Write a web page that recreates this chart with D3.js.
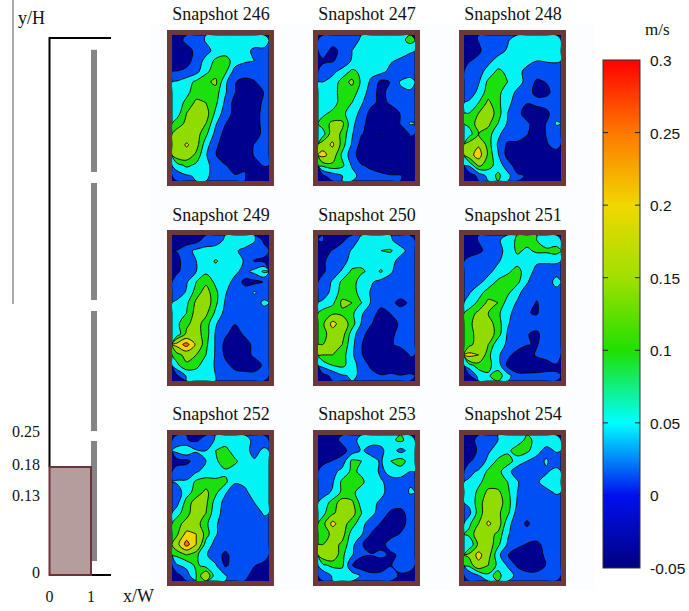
<!DOCTYPE html>
<html><head><meta charset="utf-8">
<script src="https://cdnjs.cloudflare.com/ajax/libs/d3/7.8.5/d3.min.js"></script>
<style>html,body{margin:0;padding:0;background:#fff}svg{display:block}text{font-family:"Liberation Serif",serif;fill:#111}</style>
</head><body><svg id="c" width="689" height="611"></svg>
<script>
// Velocity grids in cm/s, 10 columns x 14 rows
const snapshot246=[-1,2,3,6,8,8,9,8,8,8, -3,-1,2,4,7,8,8,7,4.5,4.5, -3,-1,3,7,11,12,8,6,5.5,5, 1,2,4,9,12,11,3.5,3,3,5.5, 6,8,11,13,15,6.5,1,-0.5,0.5,3, 7,9,12,13,12,6,1,-2,-2,1, 8,11,15,14,11,4.5,-1,-3,-2,2, 8,14,18,16,9,3,-0.5,-3,-2,3, 12,15,17,14,6,1,-2,-3,-2,3, 16,14,16,11,4,-1,-3,-3,-1,2, 15,21,16,7.5,2,-2,-3,-1,1,2, 17,17,13,6,1,-2,-2,-0.5,1,2, 8,11,9,7,3,1,-0.5,0.5,0,1, 3,5,6,6,4.5,2,1,1,-1,-1];
const snapshot247=[2,3,3,3,6.5,9.5,8,7,8,12, 3,-0.5,2,5.5,8,10,7,8,8,6, 0,0.5,2.5,6,8,9,7,6,4.5,4, 3,4.5,7,11,9,7,7,4,2,3.5, 5.5,7,12,15,9,4.5,-0.5,1,6,7, 6.5,8,12,12,8,3,-1,3,4.5,5, 7,8,12,10,6,2,-0.5,1.5,3,3.5, 9,11,11,8,4,-1,-2,-1.5,1,3, 12,15,15,7,2,-1,-2,-2,1,6, 8,17,13,6,1,-0.5,1,-1,-1,1, 17,21,12,5,-1,-3,-3,-3,-2,0, 22,17,9,3,-2,-3,-3,-3,-2,-0.5, 11,13,11,5,1,0,-2,-1,-1.5,-1, 0,3,5.5,7,4,2,2,1,1,-0.5];
const snapshot248=[-1,1,3,3,5,8,6,9,9,9, -1,0,3,4,6,9,9,8,8,8, 0.5,2,4.5,7,8,8,7,5.5,6,6, 3,4,7,11,9,7,4,3,1,3, 4,5,11,12,10,7.5,4,0,1,4, 2,7,12,11,8,4.5,2.5,-0.5,-0.5,3, 6.5,10,15,11,7,3,1,2.5,3,3, 10,14,17,12,5.5,2,-1,-2.5,-0.5,4, 11,16,15,10,5,3,1.5,-1,1,6, 8,14,12,6.5,3,1.5,1,-1,1,3, 16,19,12,5,0,0.5,-0.5,-2,0.5,2, 17,23,13,6,-1,-2,-2.5,-3,-2,-0.5, 6,15,12,8,3,-1.5,-2.5,-2.5,-3,-1, -2,2,7,11,7,1.5,0.5,0,0,-0.5];
const snapshot249=[-3,-2,-1,3,4,6,8,8,6,-0.5, 1,4,6.5,7,7,7,6,4.5,3,3, -0.5,3,5.5,7.5,10.5,8,8,5,0.5,-0.5, 0,3,5.5,9,8,8,6.5,4,7,11, 3,5,10,13,9,7.5,4,-0.5,-0.5,1, 3,6,12,16,11,6,2,3,6,3, 6.5,9,15,17,11,5,2,3,3.5,6.5, 7,10,16,15,9,4,2,1,3,3.5, 9,13,16,12,6,2.5,1,2,3,3, 7,15,16,12,5,1.5,-1,1.5,3,3, 22,27,19,11,5,-0.5,-2,-1,2,3, 12,16,14,10,5,0,-1,-0.5,1.5,3, 9,13,11,8,5,2,-0.5,-1.5,-1,1.5, 0,6,8,7,5.5,2,2.5,2.5,2,3];
const snapshot250=[1,-1.5,0,3,7,8,7,6,3.5,2, -0.5,1,3,6,8,7,10,10.5,7,4, 0,3,4,7,8,9,8,7,4,3.5, 0,3.5,6,11,11,8,10.5,6,3.5,3, 3,6,11,13,6.5,6,4,4,4.5,3, 3,7,12,12,8,5,3,3,3,5.5, 6.5,9,15,14,10,5,2.5,2,-0.5,1.5, 12,13,13,11,6,3,-1,1,3,3, 13,22,17,12,5,1,-1.5,-1,1.5,3, 12,17,16,8,2,-1,-2,0,2,5.5, 14,19,14,7,1,-2,-2.5,0.5,1.5,3, 14,14,12,6.5,1,-1,-2,-1.5,-1,1, 7,10,11,8,3,0,-1,-1.5,-2,0, -1,2,5,6,5,2,1,1.5,1,1];
const snapshot251=[-1,1,3,5,7,11,12,10,7,7, -1,0,2,4.5,6.5,11,9,11,11,12, 2,3,3.5,5,7.5,8,7,6,6,6, 3,3.5,4.5,7,9,12,7,4.5,4,4, 3,4.5,7,11,13,11,6,2,3,7, 5,8,12,13,11,7,3,2,3.5,4, 7,11,15,14,8,5,3,0.5,3,5.5, 12,15,14,11,6.5,4,1,0.5,3,4, 13,16,16,12,6,3,2.5,2.5,3,3, 13,15,17,12,5,2,1,0,3,3, 12,17,14,7,5,3,1,0.5,3,3, 22,20,11,6.5,2,-1,-1.5,1.5,2.5,3, 8,12,11,8,-0.5,-2,-2.5,-2,-1,0.5, -0.5,7,9.5,12,7.5,2,2,2,2,1];
const snapshot252=[3,1,0,3,6,7,9.5,7,4.5,3, 7,10,6,5.5,10,12,7,7,4,6.5, -1,-0.5,3,5.5,9,13,11,7,6,8, 3,3.5,5,7,8,9,7.5,7,6.5,6.5, 6,6,11,12,11,11,6,6,6,6, 3,8,12,15,11,6,3,5,6.5,7, 4,12,16,15,8,4,3,3,5.5,7, 8,13,16,14,7,4,3,3,3.5,6, 13,15,16,11,6,3.5,3,3,3,4, 13,22,20,12,6,3,3,3,3,4.5, 18,27,20,8,4,3,3,2,3,3.5, 11,14,11,6,3,-0.3,3,2.5,3,3, 5,7,11,8,6,0,3,3,1,-0.5, -1,3,10,19,7,6,3,2,-1,-2];
const snapshot253=[-1,-1,2,4,7,7,7,9,11,8, -1.5,-2,-1,3,6,4,4.5,8,4,7, -0.5,1,3,11,10,7,5,10,12,8, 3,4,7,11,9,8,4.5,7,8,5.5, 3,5,11,12,11,7,6,4,3.5,5, 4,6,11,11,8,5.5,7,3,3,6, 7,12,16,15,8,7,4.5,3,3,3, 9,13,17,16,10,7,3,0,-1,3, 12,22,16,12,7,3,0.5,-1,-0.5,2, 12,15,16,8,6,0.5,-1,-0.5,1,3, 14,16,13,7,1,-0.5,-0.5,2.5,3,3, 17,18,11,6,1.5,1,2,0,1.5,3, 9,11,11,1,-2,-2,-2,0.5,3,3, 2,6,7,8,5,2,2.5,3,0,-1];
const snapshot254=[-1,2,3,5.5,7,8,11,9,8,7, 0,1,5,7,9,12,11,7,4,6, 0,3,6.5,11,12,8,5.5,4,6,3, 4.5,6,11,11.5,7,3,2,5.5,5,7, 6,9,12,11.5,10,6,2,5,7,7, 7,11,15,15,11,5.5,3.5,4,4.5,6, 6.5,12,17,16,12,5,2,3,3,3.5, 4,12,17,15,11,3.5,3,3,3,5.5, 9,14,21,17,7,3,0,3,3,3, 11,17,16,13,6,3,3,2.5,2,3, 6,15,17,11,5,2,0.5,0,2,3, 15,22,16,7,1,-1.5,-2.5,-1.5,2,3, 11,18,14,9,5,0,-1,-1,1,3, 1,5,9,11,8,4,2,2,1.5,2];

const gridCols=10, gridRows=14;
const panelNames=["Snapshot 246","Snapshot 247","Snapshot 248","Snapshot 249","Snapshot 250","Snapshot 251","Snapshot 252","Snapshot 253","Snapshot 254"];
const panelData=[snapshot246,snapshot247,snapshot248,snapshot249,snapshot250,snapshot251,snapshot252,snapshot253,snapshot254];
const panelRowTops=[30,230,430], panelColLefts=[167,313,459];
const titleBaselines=[20,221,420];

const bandEdges=[-5,0.8,5.5,10,14,20,25];
const bandColors=["#00008f","#0050f5","#00f4f4","#1fe010","#90dc00","#f4d400","#ff6a10"];

const barTicks=[0.3,0.25,0.2,0.15,0.1,0.05,0,-0.05];
const barStops=[-0.05,0,0.05,0.1,0.15,0.2,0.25,0.3];
const barColors=["#00007f","#0010f0","#00ffff","#20e000","#a0e000","#f0d800","#ff7800","#ff0000"];

const yTicks=[0,0.13,0.18,0.25], yTickLabels=["0","0.13","0.18","0.25"];
const xTicks=[0,1];
const wallSegments=[[0.026,0.2495],[0.268,0.4916],[0.512,0.73],[0.7505,0.978]];

const svg=d3.select("#c");
svg.append("rect").attr("x",150).attr("y",24).attr("width",445).attr("height",566).attr("fill","#fbfdff");

// Contour panels
const panelW=107,panelH=156,frame=5;
const contours=d3.contours().size([gridCols,gridRows]).thresholds(bandEdges).smooth(true);
const color=d3.scaleOrdinal().domain(bandEdges).range(bandColors);
const defs=svg.append("defs");
defs.append("filter").attr("id","soft").append("feGaussianBlur").attr("stdDeviation",0.35);
defs.append("clipPath").attr("id","inner").append("rect").attr("x",frame).attr("y",frame).attr("width",panelW-2*frame).attr("height",panelH-2*frame);
panelData.forEach((vals,k)=>{
  const col=k%3,row=Math.floor(k/3);
  const x0=panelColLefts[col],y0=panelRowTops[row];
  const g=svg.append("g").attr("transform",`translate(${x0},${y0})`);
  const sx=d3.scaleLinear().domain([0,gridCols]).range([frame,panelW-frame]);
  const sy=d3.scaleLinear().domain([0,gridRows]).range([frame,panelH-frame]);
  const ringLine=d3.line().x(p=>sx(p[0])).y(p=>sy(p[1])).curve(d3.curveCatmullRomClosed.alpha(0.5));
  const toPath=d=>d.coordinates.flat().map(r=>ringLine(r.slice(0,-1))).join("");
  const inner=g.append("g").attr("clip-path","url(#inner)").attr("filter","url(#soft)");
  inner.append("rect").attr("x",frame).attr("y",frame).attr("width",panelW-2*frame).attr("height",panelH-2*frame).attr("fill",bandColors[0]);
  inner.selectAll("path").data(contours(vals).filter(d=>d.value!==bandEdges[0])).join("path")
    .attr("d",toPath).attr("fill",d=>color(d.value)).attr("fill-rule","evenodd")
    .attr("stroke","#000").attr("stroke-width",0.9).attr("stroke-linejoin","round");
  g.append("rect").attr("x",frame/2).attr("y",frame/2).attr("width",panelW-frame).attr("height",panelH-frame)
    .attr("fill","none").attr("stroke","#6b3a38").attr("stroke-width",frame);
  svg.append("text").attr("x",x0+54).attr("y",titleBaselines[row]).attr("text-anchor","middle")
    .attr("font-size",18).text(panelNames[k]);
});

// Colour bar
const barY=d3.scaleLinear().domain([-0.05,0.3]).range([568,60]);
const grad=defs.append("linearGradient").attr("id","bar").attr("x1",0).attr("y1",1).attr("x2",0).attr("y2",0);
grad.selectAll("stop").data(barStops).join("stop")
  .attr("offset",d=>(d+0.05)/0.35).attr("stop-color",(d,i)=>barColors[i]);
svg.append("rect").attr("x",603).attr("y",barY(0.3)).attr("width",37).attr("height",barY(-0.05)-barY(0.3))
  .attr("fill","url(#bar)").attr("stroke","#333").attr("stroke-width",1);
const barAxis=svg.append("g");
barTicks.forEach(t=>{
  if(t<0.3&&t>-0.05){
    barAxis.append("line").attr("x1",603).attr("x2",608).attr("y1",barY(t)).attr("y2",barY(t)).attr("stroke","#222");
    barAxis.append("line").attr("x1",635).attr("x2",640).attr("y1",barY(t)).attr("y2",barY(t)).attr("stroke","#222");
  }
  barAxis.append("text").attr("x",650).attr("y",barY(t)+6).attr("font-size",15.5)
    .style("font-family","'Liberation Sans',sans-serif").text(t);
});
svg.append("text").attr("x",645).attr("y",35).attr("font-size",17).text("m/s");

// Domain schematic
const sxW=d3.scaleLinear().domain([0,1]).range([49.5,91]);
const syH=d3.scaleLinear().domain([0,0.13,0.18,0.25,1]).range([575,498,467,434,38]);
const wallY=d3.scaleLinear().domain([0,1]).range([575,38]);
svg.append("line").attr("x1",13).attr("x2",13).attr("y1",0).attr("y2",304).attr("stroke","#555").attr("stroke-width",1);
svg.append("path").attr("d",d3.line()([[sxW(0),syH(0.18)],[sxW(0),38],[111,38]])).attr("fill","none").attr("stroke","#000").attr("stroke-width",2);
svg.append("line").attr("x1",sxW(1)).attr("x2",111).attr("y1",575).attr("y2",575).attr("stroke","#000").attr("stroke-width",2);
wallSegments.forEach(s=>svg.append("rect").attr("x",91).attr("width",6).attr("y",wallY(s[1])).attr("height",wallY(s[0])-wallY(s[1])).attr("fill","#858585"));
svg.append("rect").attr("x",sxW(0)).attr("y",syH(0.18)).attr("width",sxW(1)-sxW(0)).attr("height",syH(0)-syH(0.18))
  .attr("fill","#b59d9d").attr("stroke","#6b3438").attr("stroke-width",2);
yTicks.forEach((t,i)=>svg.append("text").attr("x",40).attr("y",syH(t)+3).attr("text-anchor","end").attr("font-size",16).text(yTickLabels[i]));
xTicks.forEach(t=>svg.append("text").attr("x",sxW(t)).attr("y",602).attr("text-anchor","middle").attr("font-size",16).text(t));
svg.append("text").attr("x",123).attr("y",602).attr("font-size",18).text("x/W");
svg.append("text").attr("x",18).attr("y",24).attr("font-size",18).text("y/H");
</script></body></html>
